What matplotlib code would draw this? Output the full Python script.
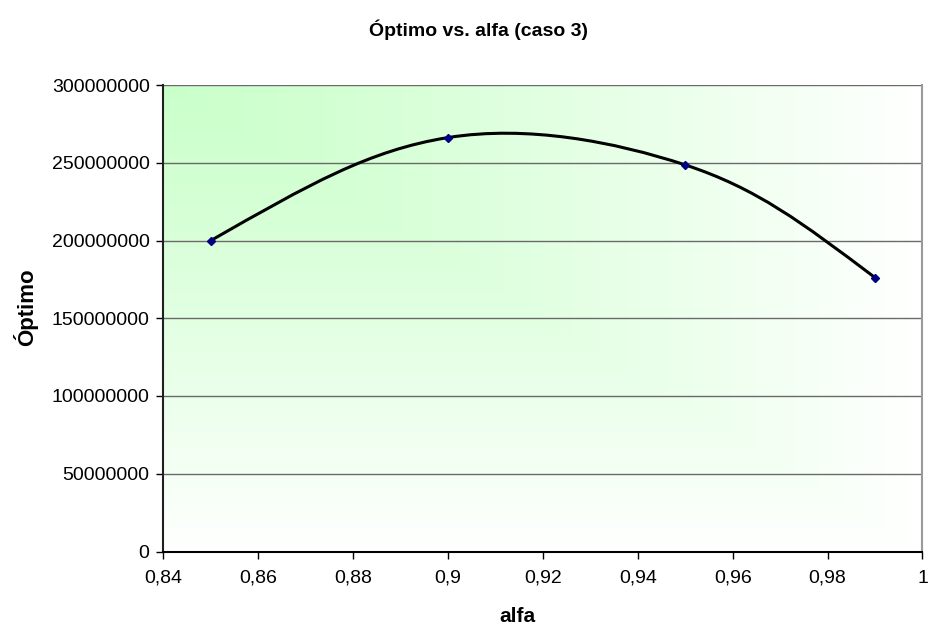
import numpy as np
import matplotlib.pyplot as plt
from matplotlib.path import Path
from matplotlib.patches import PathPatch
from matplotlib.ticker import FuncFormatter

plt.rcParams['font.family'] = ['Liberation Sans', 'DejaVu Sans']

# datos
alfa = [0.85, 0.9, 0.95, 0.99]
optimo = [200000000, 266200000, 248600000, 176100000]
x_ticks = [0.84, 0.86, 0.88, 0.9, 0.92, 0.94, 0.96, 0.98, 1.0]
y_ticks = [0, 50000000, 100000000, 150000000, 200000000, 250000000, 300000000]

fig = plt.figure(figsize=(9.29, 6.3), dpi=100)
ax = fig.add_axes([163.5 / 929, 78.5 / 630, 759 / 929, 466.5 / 630])

# fondo degradado verde -> blanco (desde la esquina)
gx, gy = np.meshgrid(np.linspace(0, 1, 400), np.linspace(0, 1, 400))
t = np.maximum(gx, gy) ** 1.15
top = np.array([202, 255, 202]) / 255
img = top[None, None, :] * (1 - t[..., None]) + np.ones(3) * t[..., None]
ax.imshow(img, extent=[0, 1, 0, 1], transform=ax.transAxes, aspect='auto',
          origin='upper', zorder=0)

ax.set_xlim(0.84, 1.0)
ax.set_ylim(0, 300000000)

# curva suavizada (bezier tipo Excel)
px = np.array(alfa)
py = np.array(optimo, dtype=float)
n = len(px)
ctrl = []
for i in range(n - 1):
    c1 = c2 = None
    if i > 0:
        c1 = (px[i] + (px[i + 1] - px[i - 1]) / 6, py[i] + (py[i + 1] - py[i - 1]) / 6)
    if i + 2 < n:
        c2 = (px[i + 1] - (px[i + 2] - px[i]) / 6, py[i + 1] - (py[i + 2] - py[i]) / 6)
    ctrl.append([c1, c2])
# extremos: punto de control sobre la recta hacia el control vecino
k = 0.62
c2 = ctrl[0][1]
ctrl[0][0] = (px[0] + (c2[0] - px[0]) * k, py[0] + (c2[1] - py[0]) * k)
c1 = ctrl[-1][0]
ctrl[-1][1] = (px[-1] + (c1[0] - px[-1]) * k, py[-1] + (c1[1] - py[-1]) * k)

verts = [(px[0], py[0])]
codes = [Path.MOVETO]
for i in range(n - 1):
    verts += [ctrl[i][0], ctrl[i][1], (px[i + 1], py[i + 1])]
    codes += [Path.CURVE4] * 3
ax.add_patch(PathPatch(Path(verts, codes), fill=False, lw=2.2, ec='black', zorder=3))
ax.plot(alfa, optimo, ls='none', marker='D', ms=4.5, color='#000080', zorder=4)

for v in y_ticks[1:]:
    ax.axhline(v, color='#6a6a6a', lw=1, zorder=1)

ax.set_xticks(x_ticks)
ax.set_yticks(y_ticks)
ax.xaxis.set_major_formatter(FuncFormatter(lambda v, p: f"{v:g}".replace('.', ',')))
ax.yaxis.set_major_formatter(FuncFormatter(lambda v, p: f"{int(v)}"))
ax.tick_params(labelsize=14, direction='out', length=5, width=1, pad=5, colors='black')
ax.tick_params(axis='x', pad=8)
ax.spines['top'].set_visible(False)
ax.spines['right'].set_color('#9a9a9a')
ax.spines['right'].set_linewidth(1.5)
ax.spines['left'].set_linewidth(1.5)
ax.spines['left'].set_color('#202020')
ax.spines['bottom'].set_linewidth(1.5)

ax.set_xlabel('alfa', fontsize=15, fontweight='bold')
ax.set_ylabel('Óptimo', fontsize=16, fontweight='bold')
ax.xaxis.set_label_coords((499 + 18 - 163.5) / 759, (551.5 - 617) / 466.5)
ax.yaxis.set_label_coords((26 - 163.5) / 759, (551.5 - 307) / 466.5)
ax.xaxis.label.set_va('center')
ax.yaxis.label.set_va('center')
fig.text(479 / 929, 1 - 30 / 630, 'Óptimo vs. alfa (caso 3)', fontsize=14,
         fontweight='bold', ha='center', va='center')

fig.savefig('out.png', dpi=100)
